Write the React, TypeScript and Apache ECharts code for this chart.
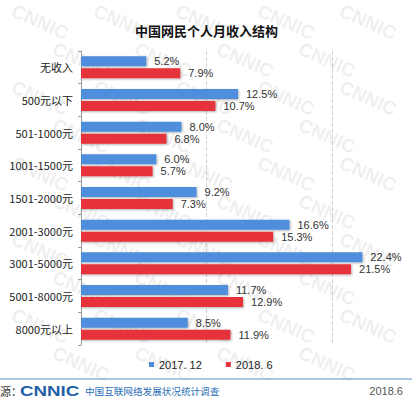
import React, { useEffect, useRef } from "react";
import * as echarts from "echarts";

const categories = ["无收入", "500元以下", "501-1000元", "1001-1500元", "1501-2000元", "2001-3000元", "3001-5000元", "5001-8000元", "8000元以上"];
const series2017 = [5.2, 12.5, 8.0, 6.0, 9.2, 16.6, 22.4, 11.7, 8.5];
const series2018 = [7.9, 10.7, 6.8, 5.7, 7.3, 15.3, 21.5, 12.9, 11.9];
const seriesNames = ["2017. 12", "2018. 6"];

export default function App() {
  const ref = useRef<HTMLDivElement>(null);
  useEffect(() => {
    if (!ref.current) return;
    const chart = echarts.init(ref.current, undefined, { renderer: "svg" });
    const watermarks: any[] = [];
    for (let r = 0; r < 10; r++) {
      for (let c = 0; c < 5; c++) {
        const x = 40 + c * 82 + (r % 2) * 41;
        const y = 22 + r * 38;
        if (x > 380 || y > 372) continue;
        watermarks.push({
          type: "text",
          x,
          y,
          rotation: -0.42,
          silent: true,
          z: -10,
          style: { text: "CNNIC", fill: "rgba(185,185,185,0.22)", font: "bold 19px Arial", textAlign: "center", textVerticalAlign: "middle" },
        });
      }
    }
    const shadow = { shadowBlur: 2, shadowColor: "rgba(0,0,0,0.3)", shadowOffsetX: 1, shadowOffsetY: 1 };
    const label = {
      show: true,
      position: "right",
      distance: 8,
      color: "#333",
      fontSize: 11,
      fontFamily: "Arial",
      formatter: (p: any) => Number(p.value).toFixed(1) + "%",
    };
    chart.setOption({
      animation: false,
      backgroundColor: "#fff",
      title: {
        text: "中国网民个人月收入结构",
        left: 130,
        top: 19,
        textStyle: { fontSize: 13, fontWeight: "bold", color: "#111", fontFamily: "Noto Sans CJK SC" },
      },
      legend: {
        data: seriesNames,
        bottom: 37,
        left: 144,
        itemWidth: 5,
        itemHeight: 5,
        itemGap: 24,
        icon: "rect",
        textStyle: { fontSize: 11, color: "#222", fontFamily: "Arial" },
      },
      grid: { left: 81, right: 17, top: 51, bottom: 67 },
      xAxis: {
        type: "value",
        min: 0,
        max: 25,
        interval: 10,
        axisLabel: { show: false },
        axisLine: { show: false },
        axisTick: { show: false },
        splitLine: { show: true, showMinLine: false, showMaxLine: false, lineStyle: { type: "dashed", color: "#d0d0d0" } },
      },
      yAxis: {
        type: "category",
        data: categories,
        inverse: true,
        axisLine: { lineStyle: { color: "#999" } },
        axisTick: { show: true, length: 3, lineStyle: { color: "#999" } },
        axisLabel: { color: "#222", fontSize: 11, margin: 8, fontFamily: "Noto Sans CJK SC" },
      },
      series: [
        {
          name: seriesNames[0],
          type: "bar",
          data: series2017,
          barWidth: 10,
          barGap: "20%",
          itemStyle: { color: "#4f8edc", ...shadow },
          label,
        },
        {
          name: seriesNames[1],
          type: "bar",
          data: series2018,
          barWidth: 10,
          itemStyle: { color: "#e5323b", ...shadow },
          label,
        },
      ],
      graphic: [
        ...watermarks,
        { type: "line", shape: { x1: 0, y1: 379, x2: 412, y2: 379 }, style: { stroke: "#5b8fc9", lineWidth: 1 }, z: 5 },
        { type: "text", x: 0, y: 391, style: { text: "源：", fill: "#333", font: "11px 'Noto Sans CJK SC'", textAlign: "left", textVerticalAlign: "middle" }, z: 5 },
        { type: "text", x: 20, y: 391, scaleX: 1.25, style: { text: "CNNIC", fill: "#1f5fa8", font: "bold 15px Arial", textAlign: "left", textVerticalAlign: "middle" }, z: 5 },
        { type: "text", x: 85, y: 391, style: { text: "中国互联网络发展状况统计调查", fill: "#2c6fb5", font: "9.6px 'Noto Sans CJK SC'", textAlign: "left", textVerticalAlign: "middle" }, z: 5 },
        { type: "text", x: 403, y: 391, style: { text: "2018.6", fill: "#555", font: "11px Arial", textAlign: "right", textVerticalAlign: "middle" }, z: 5 },
      ],
    });
    return () => chart.dispose();
  }, []);
  return <div ref={ref} style={{ width: 412, height: 412, position: "absolute", left: 0, top: 0 }} />;
}
